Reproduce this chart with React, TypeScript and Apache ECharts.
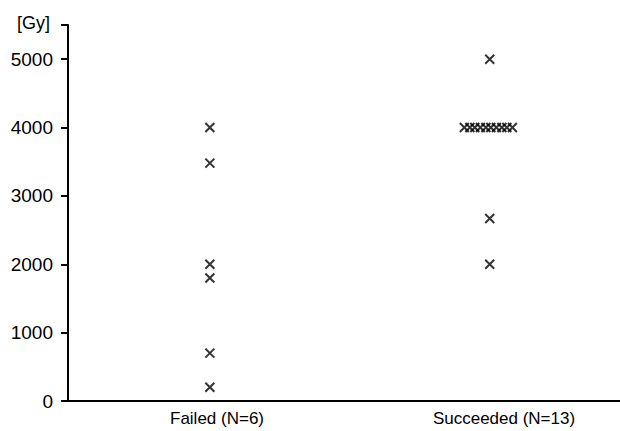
import React, { useEffect, useRef } from "react";
import * as echarts from "echarts";

// Group labels (x-axis categories)
const categories = ["Failed (N=6)", "Succeeded (N=13)"];

// Horizontal placement of each point (axis units 0–100) and dose values [Gy]
const failedX = [25.7, 25.7, 25.7, 25.7, 25.7, 25.7];
const failedY = [4000, 3480, 2000, 1800, 700, 200];

const succeededX = [76.4, 71.8, 72.8, 73.7, 74.7, 75.7, 76.6, 77.6, 78.6, 79.5, 80.5, 76.4, 76.4];
const succeededY = [5000, 4000, 4000, 4000, 4000, 4000, 4000, 4000, 4000, 4000, 4000, 2670, 2000];

const yMajorTicks = [0, 1000, 2000, 3000, 4000, 5000];

const FONT = "Liberation Sans, Arial, sans-serif";
const CROSS = "path://M0,0L10,10M10,0L0,10";

export default function App() {
  const ref = useRef<HTMLDivElement>(null);

  useEffect(() => {
    if (!ref.current) return;
    const chart = echarts.init(ref.current, null, { renderer: "svg" });
    const toPairs = (xs: number[], ys: number[]) => ys.map((y, i) => [xs[i], y]);
    const markerStyle = {
      symbol: CROSS,
      symbolSize: 9,
      itemStyle: { color: "transparent", borderColor: "#000", borderWidth: 2 },
    };
    chart.setOption({
      animation: false,
      backgroundColor: "#fff",
      grid: [
        { left: 68, right: 0, top: 25, bottom: 30 },
        { left: 217, right: 116, top: 25, bottom: 30 },
      ],
      xAxis: [
        {
          type: "value",
          gridIndex: 0,
          min: 0,
          max: 100,
          axisLine: { show: true, onZero: false, lineStyle: { color: "#000", width: 2 } },
          axisTick: { show: false },
          axisLabel: { show: false },
          splitLine: { show: false },
        },
        {
          type: "category",
          gridIndex: 1,
          data: categories,
          boundaryGap: false,
          axisLine: { show: false },
          axisTick: { show: false },
          axisLabel: { color: "#000", fontSize: 17, fontFamily: FONT, margin: 9, showMinLabel: true, showMaxLabel: true, interval: 0 },
          splitLine: { show: false },
        },
      ],
      yAxis: [
        {
          type: "value",
          gridIndex: 0,
          min: 0,
          max: 5500,
          interval: 1000,
          name: "[Gy]",
          nameLocation: "end",
          nameGap: 2,
          nameTextStyle: {
            color: "#000",
            fontSize: 18,
            fontFamily: FONT,
            align: "right",
            verticalAlign: "middle",
            padding: [0, 18, 0, 0],
          },
          axisLine: { show: true, lineStyle: { color: "#000", width: 2 } },
          axisTick: { show: true, length: 7, lineStyle: { color: "#000", width: 2 } },
          axisLabel: {
            color: "#000",
            fontSize: 19,
            fontFamily: FONT,
            margin: 15,
            formatter: (v: number) => (yMajorTicks.includes(v) ? String(v) : ""),
          },
          splitLine: { show: false },
        },
        {
          type: "value",
          gridIndex: 0,
          min: 0,
          max: 5500,
          interval: 250,
          axisLine: { show: false },
          axisTick: { show: true, length: 4, lineStyle: { color: "#000", width: 2 } },
          axisLabel: { show: false },
          splitLine: { show: false },
        },
        {
          type: "value",
          gridIndex: 1,
          min: 0,
          max: 5500,
          show: false,
        },
      ],
      series: [
        {
          type: "scatter",
          name: "Failed",
          xAxisIndex: 0,
          yAxisIndex: 0,
          data: toPairs(failedX, failedY),
          ...markerStyle,
        },
        {
          type: "scatter",
          name: "Succeeded",
          xAxisIndex: 0,
          yAxisIndex: 0,
          data: toPairs(succeededX, succeededY),
          ...markerStyle,
        },
      ],
    });
    return () => chart.dispose();
  }, []);

  return (
    <div
      ref={ref}
      style={{ position: "fixed", left: 0, top: 0, width: 620, height: 431, background: "#fff" }}
    />
  );
}
